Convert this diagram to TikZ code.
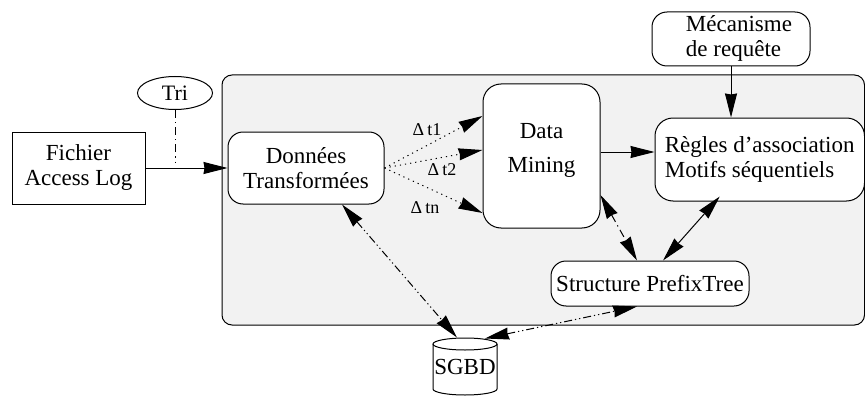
\documentclass[tikz,border=0pt]{standalone}
\usepackage{fontspec}
\setmainfont{Liberation Serif}
\newfontfamily\tms{Liberation Serif}
\usetikzlibrary{arrows.meta,shapes.geometric,calc}
\definecolor{panel}{rgb}{0.949,0.949,0.949}
\begin{document}
\begin{tikzpicture}[x=1pt,y=-1pt,line width=1pt,
  every node/.style={font=\tms\fontsize{23}{25}\selectfont},
  box/.style={draw,fill=white,inner sep=0pt},
  rbox/.style={box,rounded corners=#1},
  tip/.tip={Stealth[length=24pt,width=12pt,inset=1pt]},
  arr/.style={-tip},
  darr/.style={tip-tip},
  dotline/.style={dash pattern=on 1.2pt off 4pt},
  dashdot/.style={dash pattern=on 8pt off 4pt on 1.2pt off 4pt},
  dashdotdot/.style={dash pattern=on 8pt off 3pt on 1.2pt off 3pt on 1.2pt off 3pt},
  dlabel/.style={font=\tms\fontsize{18}{20}\selectfont,inner sep=0pt}]
\fill[white] (0,0) rectangle (865,396);
\useasboundingbox (0,0) rectangle (865,396);
% panel
\draw[fill=panel,rounded corners=10] (222,75) rectangle (864.5,325);
% nodes
\node[box,minimum width=133,minimum height=72,align=center] (fich) at (78.5,168) {Fichier\\Access Log};
\node[draw,ellipse,fill=white,inner sep=0pt,minimum width=75,minimum height=33,font=\tms\fontsize{22}{24}\selectfont] (tri) at (175,93) {Tri};
\node[rbox=15,minimum width=156,minimum height=72,align=center] (dt) at (306,168) {Données\\Transformées};
\node[rbox=18,minimum width=117,minimum height=144,
  label={[align=center,yshift=6pt,font=\tms\fontsize{23}{34}\selectfont]center:Data\\Mining}] (dm) at (541.5,156) {};
\node[rbox=18,minimum width=209.5,minimum height=83,align=left] (reg) at (759.75,159.5) {Règles d’association\\Motifs séquentiels};
\node[rbox=15,minimum width=158,minimum height=54] (mec) at (731,39)
  {\hspace*{16pt}\begin{tabular}{@{}l@{}}Mécanisme\\[-1pt]de requête\end{tabular}};
\node[rbox=15,minimum width=198,minimum height=45] (pt) at (650,283.5) {Structure PrefixTree};
\node[inner sep=0pt,minimum width=64,minimum height=57] (sgbd) at (465,366.5) {SGBD};
% cylinder outline
\draw (465,344) ellipse [x radius=32,y radius=6];
\draw (433,344) -- (433,389) arc[start angle=180,end angle=360,x radius=32,y radius=-6] -- (497,344);
% connectors
\coordinate (trie) at (tri.south |- 0,162);
\draw[dashdot] (tri.south) -- (trie);
\draw[arr] (fich.east) -- (dt.west);
\draw[arr,dotline] (dt.east) -- (dm.west |- 0,116);
\draw[arr,dotline] (dt.east) -- (dm.west |- 0,150);
\draw[arr,dotline] (dt.east) -- (dm.west |- 0,213);
\node[dlabel] (l1) at (427,130) {Δ\,t1};
\node[dlabel] (l2) at (442,170) {Δ\,t2};
\node[dlabel] (l3) at (425,208) {Δ\,tn};
\draw[arr] (dm.east |- 0,152) -- (reg.west |- 0,152);
\draw[arr] (mec.south) -- (mec.south |- reg.north);
\draw[darr,dashdot] (dm.east |- 0,195) -- ([xshift=-13pt]pt.north);
\draw[darr] ([xshift=-40pt,yshift=5pt]reg.south) -- ([xshift=13pt]pt.north);
\draw[darr,dashdotdot] ([xshift=36pt]dt.south) -- ([xshift=-8pt]sgbd.north);
\draw[darr,dashdotdot] ([xshift=20pt,yshift=-1pt]sgbd.north) -- ([xshift=-13pt]pt.south);
\end{tikzpicture}
\end{document}
